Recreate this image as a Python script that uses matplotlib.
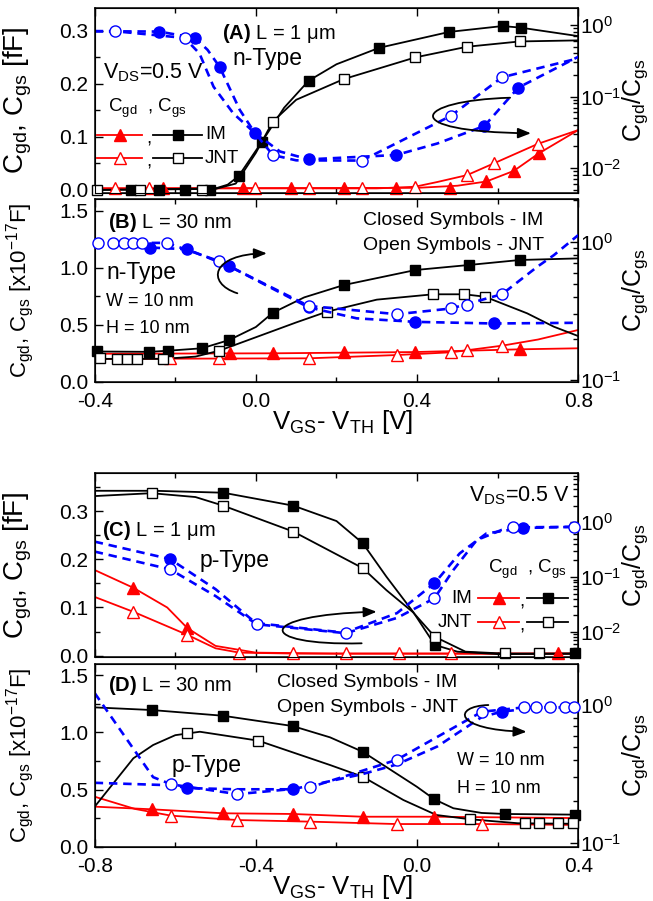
import numpy as np
import matplotlib
matplotlib.use('Agg')
import matplotlib.pyplot as plt
from matplotlib.path import Path
from matplotlib.patches import FancyArrowPatch
from matplotlib.ticker import MultipleLocator, FormatStrFormatter, LogLocator, NullFormatter

plt.rcParams['font.family'] = ['Liberation Sans', 'DejaVu Sans']
plt.rcParams['mathtext.fontset'] = 'custom'
plt.rcParams['mathtext.rm'] = 'Liberation Sans'
plt.rcParams['mathtext.it'] = 'Liberation Sans:italic'
plt.rcParams['mathtext.bf'] = 'Liberation Sans:bold'
plt.rcParams['mathtext.default'] = 'regular'
plt.rcParams['axes.unicode_minus'] = False

# ---------------- Panel A (n-type, L = 1 um) ----------------
A_im_cgs_lx = [-0.4, -0.1, -0.07, -0.043, 0.015, 0.07, 0.131, 0.2, 0.306, 0.48, 0.612, 0.657, 0.8]
A_im_cgs_ly = [0.0, 0.003, 0.01, 0.026, 0.091, 0.155, 0.206, 0.237, 0.268, 0.298, 0.309, 0.306, 0.29]
A_im_cgs_mx = [-0.31, -0.24, -0.177, -0.114, -0.043, 0.015, 0.131, 0.306, 0.48, 0.612, 0.657]
A_im_cgs_my = [0.0, 0.0, 0.0, 0.0, 0.026, 0.091, 0.206, 0.268, 0.298, 0.309, 0.306]

A_jnt_cgs_lx = [-0.4, -0.1, -0.05, 0.0, 0.042, 0.1, 0.218, 0.396, 0.524, 0.655, 0.8]
A_jnt_cgs_ly = [0.0, 0.002, 0.012, 0.07, 0.129, 0.17, 0.209, 0.25, 0.27, 0.28, 0.282]
A_jnt_cgs_mx = [-0.395, -0.287, -0.133, 0.042, 0.218, 0.396, 0.524, 0.655]
A_jnt_cgs_my = [0.0, 0.0, 0.0, 0.129, 0.209, 0.25, 0.27, 0.28]

A_im_cgd_lx = [-0.4, 0.4, 0.5, 0.572, 0.64, 0.702, 0.8]
A_im_cgd_ly = [0.003, 0.004, 0.008, 0.016, 0.036, 0.069, 0.113]
A_im_cgd_mx = [-0.231, -0.033, 0.088, 0.218, 0.348, 0.481, 0.572, 0.64, 0.702]
A_im_cgd_my = [0.003, 0.003, 0.003, 0.003, 0.003, 0.004, 0.016, 0.036, 0.069]

A_jnt_cgd_lx = [-0.4, 0.3, 0.394, 0.45, 0.524, 0.59, 0.7, 0.8]
A_jnt_cgd_ly = [0.003, 0.003, 0.006, 0.015, 0.028, 0.05, 0.087, 0.113]
A_jnt_cgd_mx = [-0.35, -0.264, -0.002, 0.131, 0.263, 0.394, 0.524, 0.59, 0.70]
A_jnt_cgd_my = [0.003, 0.003, 0.003, 0.003, 0.003, 0.005, 0.028, 0.05, 0.087]

A_im_r_lx = [-0.4, -0.24, -0.151, -0.12, -0.09, -0.04, -0.002, 0.06, 0.131, 0.348, 0.45, 0.567, 0.651, 0.8]
A_im_r_ly = [0.82, 0.81, 0.66, 0.45, 0.26, 0.065, 0.0306, 0.017, 0.0132, 0.0152, 0.022, 0.0387, 0.133, 0.36]
A_im_r_mx = [-0.24, -0.151, -0.09, -0.002, 0.131, 0.348, 0.567, 0.651]
A_im_r_my = [0.81, 0.66, 0.26, 0.0306, 0.0132, 0.0152, 0.0387, 0.133]

A_jnt_r_lx = [-0.4, -0.35, -0.177, -0.14, -0.105, -0.056, -0.002, 0.042, 0.1, 0.263, 0.483, 0.611, 0.8]
A_jnt_r_ly = [0.82, 0.82, 0.66, 0.4, 0.137, 0.058, 0.0306, 0.0152, 0.0128, 0.0127, 0.0533, 0.186, 0.342]
A_jnt_r_mx = [-0.35, -0.177, 0.042, 0.263, 0.483, 0.611]
A_jnt_r_my = [0.82, 0.66, 0.0152, 0.0127, 0.0533, 0.186]

# ---------------- Panel B (n-type, L = 30 nm) ----------------
B_im_cgs_lx = [-0.4, -0.264, -0.217, -0.134, -0.066, 0.0, 0.042, 0.12, 0.218, 0.396, 0.528, 0.655, 0.8]
B_im_cgs_ly = [0.265, 0.262, 0.272, 0.293, 0.366, 0.48, 0.605, 0.74, 0.848, 0.98, 1.024, 1.068, 1.082]
B_im_cgs_mx = [-0.395, -0.264, -0.217, -0.134, -0.066, 0.042, 0.218, 0.396, 0.528, 0.655]
B_im_cgs_my = [0.269, 0.258, 0.272, 0.293, 0.366, 0.605, 0.848, 0.98, 1.024, 1.068]

B_jnt_cgs_lx = [-0.4, -0.231, -0.15, -0.091, 0.0, 0.1, 0.176, 0.3, 0.44, 0.517, 0.568, 0.673, 0.739, 0.8]
B_jnt_cgs_ly = [0.2, 0.2, 0.22, 0.272, 0.39, 0.52, 0.614, 0.72, 0.767, 0.767, 0.746, 0.6, 0.483, 0.40]
B_jnt_cgs_mx = [-0.387, -0.345, -0.32, -0.294, -0.231, -0.091, 0.176, 0.44, 0.517, 0.568]
B_jnt_cgs_my = [0.205, 0.2, 0.2, 0.2, 0.2, 0.272, 0.614, 0.767, 0.767, 0.746]

B_im_cgd_lx = [-0.4, 0.042, 0.394, 0.655, 0.8]
B_im_cgd_ly = [0.245, 0.249, 0.26, 0.284, 0.293]
B_im_cgd_mx = [-0.064, 0.042, 0.218, 0.394, 0.655]
B_im_cgd_my = [0.249, 0.249, 0.258, 0.258, 0.284]

B_jnt_cgd_lx = [-0.4, 0.131, 0.35, 0.485, 0.611, 0.7, 0.8]
B_jnt_cgd_ly = [0.2, 0.205, 0.234, 0.258, 0.316, 0.37, 0.454]
B_jnt_cgd_mx = [-0.213, -0.091, 0.131, 0.35, 0.485, 0.524, 0.611]
B_jnt_cgd_my = [0.205, 0.205, 0.205, 0.234, 0.258, 0.278, 0.316]

B_jnt_r_lx = [-0.4, -0.221, -0.091, 0.131, 0.35, 0.485, 0.611, 0.698, 0.739, 0.8]
B_jnt_r_ly = [0.983, 0.983, 0.725, 0.344, 0.30, 0.33, 0.419, 0.66, 0.80, 1.12]
B_jnt_r_mx = [-0.391, -0.354, -0.327, -0.304, -0.283, -0.221, -0.091, 0.131, 0.35, 0.485, 0.524, 0.611]
B_jnt_r_my = [0.983, 0.983, 0.983, 0.983, 0.983, 0.983, 0.725, 0.344, 0.30, 0.33, 0.348, 0.419]

B_im_r_lx = [-0.4, -0.263, -0.171, -0.066, 0.131, 0.25, 0.396, 0.59, 0.8]
B_im_r_ly = [0.95, 0.91, 0.885, 0.667, 0.336, 0.28, 0.264, 0.257, 0.26]
B_im_r_mx = [-0.263, -0.171, -0.066, 0.131, 0.396, 0.59]
B_im_r_my = [0.91, 0.885, 0.667, 0.336, 0.264, 0.257]

# ---------------- Panel C (p-type, L = 1 um) ----------------
C_im_cgs_lx = [-0.8, -0.65, -0.481, -0.307, -0.2, -0.135, -0.076, -0.01, 0.044, 0.1, 0.2, 0.4]
C_im_cgs_ly = [0.343, 0.343, 0.339, 0.312, 0.28, 0.234, 0.164, 0.091, 0.022, 0.008, 0.003, 0.004]
C_im_cgs_mx = [-0.481, -0.307, -0.135, 0.044, 0.392]
C_im_cgs_my = [0.339, 0.312, 0.234, 0.022, 0.005]

C_jnt_cgs_lx = [-0.8, -0.659, -0.55, -0.481, -0.307, -0.135, -0.076, -0.01, 0.044, 0.12, 0.218, 0.4]
C_jnt_cgs_ly = [0.332, 0.338, 0.33, 0.312, 0.258, 0.182, 0.136, 0.09, 0.039, 0.008, 0.004, 0.004]
C_jnt_cgs_mx = [-0.659, -0.481, -0.307, -0.135, 0.044, 0.218, 0.303]
C_jnt_cgs_my = [0.338, 0.312, 0.258, 0.182, 0.039, 0.005, 0.005]

C_im_cgd_lx = [-0.8, -0.704, -0.62, -0.57, -0.5, -0.4, -0.2, 0.4]
C_im_cgd_ly = [0.178, 0.141, 0.1, 0.057, 0.02, 0.006, 0.004, 0.004]
C_im_cgd_mx = [-0.704, -0.57, 0.35]
C_im_cgd_my = [0.141, 0.057, 0.005]

C_jnt_cgd_lx = [-0.8, -0.704, -0.57, -0.5, -0.441, -0.3, 0.4]
C_jnt_cgd_ly = [0.122, 0.091, 0.043, 0.015, 0.006, 0.004, 0.004]
C_jnt_cgd_mx = [-0.704, -0.57, -0.441, -0.307, -0.177, -0.044, 0.085]
C_jnt_cgd_my = [0.091, 0.043, 0.005, 0.005, 0.005, 0.005, 0.005]

C_im_r_lx = [-0.8, -0.613, -0.5, -0.4, -0.18, -0.05, 0.043, 0.106, 0.172, 0.263, 0.4]
C_im_r_ly = [0.44, 0.212, 0.06, 0.0145, 0.0097, 0.022, 0.077, 0.27, 0.62, 0.78, 0.82]
C_im_r_mx = [-0.613, 0.043, 0.263]
C_im_r_my = [0.212, 0.077, 0.78]

C_jnt_r_lx = [-0.8, -0.613, -0.5, -0.398, -0.177, -0.05, 0.043, 0.09, 0.148, 0.21, 0.239, 0.4]
C_jnt_r_ly = [0.29, 0.138, 0.045, 0.0138, 0.0095, 0.018, 0.041, 0.134, 0.47, 0.72, 0.8, 0.82]
C_jnt_r_mx = [-0.613, -0.398, -0.177, 0.043, 0.239, 0.39]
C_jnt_r_my = [0.138, 0.0138, 0.0095, 0.041, 0.8, 0.82]

# ---------------- Panel D (p-type, L = 30 nm) ----------------
D_im_cgs_lx = [-0.8, -0.659, -0.482, -0.309, -0.216, -0.135, -0.001, 0.043, 0.09, 0.16, 0.218, 0.4]
D_im_cgs_ly = [1.218, 1.195, 1.145, 1.055, 0.956, 0.83, 0.525, 0.414, 0.336, 0.295, 0.286, 0.28]
D_im_cgs_mx = [-0.659, -0.482, -0.309, -0.135, 0.043, 0.218, 0.392]
D_im_cgs_my = [1.195, 1.145, 1.055, 0.83, 0.414, 0.286, 0.277]

D_jnt_cgs_lx = [-0.8, -0.704, -0.655, -0.6, -0.539, -0.394, -0.216, -0.135, -0.034, 0.048, 0.131, 0.25, 0.4]
D_jnt_cgs_ly = [0.35, 0.773, 0.889, 0.975, 1.005, 0.927, 0.714, 0.612, 0.408, 0.277, 0.24, 0.205, 0.2]
D_jnt_cgs_mx = [-0.572, -0.394, -0.135, 0.131, 0.268, 0.303, 0.349, 0.386]
D_jnt_cgs_my = [0.991, 0.927, 0.612, 0.24, 0.205, 0.205, 0.205, 0.205]

D_im_cgd_lx = [-0.8, -0.659, -0.481, -0.309, -0.135, 0.043, 0.4]
D_im_cgd_ly = [0.35, 0.327, 0.292, 0.286, 0.262, 0.262, 0.25]
D_im_cgd_mx = [-0.659, -0.481, -0.309, -0.135, 0.043]
D_im_cgd_my = [0.327, 0.292, 0.286, 0.262, 0.262]

D_jnt_cgd_lx = [-0.8, -0.7, -0.61, -0.446, -0.266, -0.051, 0.161, 0.4]
D_jnt_cgd_ly = [0.437, 0.33, 0.271, 0.233, 0.219, 0.198, 0.198, 0.19]
D_jnt_cgd_mx = [-0.61, -0.446, -0.266, -0.051, 0.161]
D_jnt_cgd_my = [0.271, 0.233, 0.219, 0.198, 0.198]

D_jnt_r_lx = [-0.8, -0.655, -0.61, -0.446, -0.266, -0.051, 0.161, 0.265, 0.4]
D_jnt_r_ly = [1.22, 0.30, 0.266, 0.226, 0.253, 0.40, 0.894, 0.96, 0.96]
D_jnt_r_mx = [-0.61, -0.446, -0.266, -0.051, 0.161, 0.265, 0.296, 0.33, 0.367, 0.39]
D_jnt_r_my = [0.266, 0.226, 0.253, 0.40, 0.894, 0.96, 0.96, 0.96, 0.96, 0.96]

D_im_r_lx = [-0.8, -0.61, -0.57, -0.45, -0.309, -0.135, -0.051, 0.05, 0.161, 0.21, 0.3, 0.4]
D_im_r_ly = [0.273, 0.262, 0.25, 0.245, 0.245, 0.316, 0.37, 0.5, 0.82, 0.894, 0.96, 0.96]
D_im_r_mx = [-0.57, -0.309, 0.21]
D_im_r_my = [0.25, 0.245, 0.894]

RED = '#ff0000'
BLUE = '#0000ff'
BLK = '#000000'

TICK = 15
LABEL_A = 20
LABEL_B = 16
LABEL_R = 18
XLABEL = 18.5
TYPE = 16.5
TITLE = 14.5
NOTE = 14
WH = 13
LEG = 13.5

fig = plt.figure(figsize=(6.53, 9.01), dpi=100)
L, W = 0.145, 0.7406
axA = fig.add_axes([L, 0.7858, W, 0.2053])
axB = fig.add_axes([L, 0.5760, W, 0.2031])
axC = fig.add_axes([L, 0.2708, W, 0.2042])
axD = fig.add_axes([L, 0.0599, W, 0.2031])


def solid(ax, lx, ly, mx, my, color, marker, filled, ms):
    ax.plot(lx, ly, color=color, lw=1.3, zorder=2)
    ax.plot(mx, my, ls='none', marker=marker, ms=ms, mec=color,
            mfc=color if filled else 'white', mew=1.0, zorder=3, clip_on=False)


def dashed(ax, lx, ly, mx, my, filled):
    ax.plot(lx, ly, color=BLUE, lw=1.9, dashes=(3.2, 2.2), zorder=2)
    ax.plot(mx, my, ls='none', marker='o', ms=8, mec=BLUE,
            mfc=BLUE if filled else 'white', mew=1.0, zorder=3, clip_on=False)


def setup(ax, xlim, ylim, ymaj, ylim2, show_x):
    ax.set_xlim(*xlim)
    ax.set_ylim(*ylim)
    ax.xaxis.set_major_locator(MultipleLocator(0.4))
    ax.xaxis.set_minor_locator(MultipleLocator(0.2))
    ax.yaxis.set_major_locator(MultipleLocator(ymaj))
    ax.yaxis.set_minor_locator(MultipleLocator(ymaj / 2))
    ax.yaxis.set_major_formatter(FormatStrFormatter('%.1f'))
    ax.xaxis.set_major_formatter(FormatStrFormatter('%.1f'))
    ax.tick_params(which='both', direction='in', top=True, right=False, labelsize=TICK, width=1.0)
    ax.tick_params(which='major', length=6)
    ax.tick_params(which='minor', length=3.5)
    ax.tick_params(axis='y', pad=4.5)
    ax.tick_params(axis='x', pad=7)
    if not show_x:
        ax.tick_params(axis='x', labelbottom=False)
    for s in ax.spines.values():
        s.set_linewidth(1.1)
    ax2 = ax.twinx()
    ax2.set_yscale('log')
    ax2.set_ylim(*ylim2)
    ax2.yaxis.set_major_locator(LogLocator(base=10, numticks=10))
    ax2.yaxis.set_minor_locator(LogLocator(base=10, subs=np.arange(2, 10), numticks=10))
    ax2.yaxis.set_minor_formatter(NullFormatter())
    ax2.tick_params(which='both', direction='in', labelsize=TICK, width=1.0, pad=1.5)
    ax2.tick_params(which='major', length=6)
    ax2.tick_params(which='minor', length=3.5)
    ax2.set_ylabel('C$_{gd}$/C$_{gs}$', fontsize=LABEL_R)
    ax2.yaxis.set_label_coords(1.087, 0.5)
    return ax2


def arrow(ax, pts):
    codes = [Path.MOVETO, Path.CURVE4, Path.CURVE4, Path.CURVE4]
    p = FancyArrowPatch(path=Path(pts, codes), arrowstyle='-|>,head_length=0.55,head_width=0.22',
                        mutation_scale=14, lw=1.3, color='k', transform=ax.transAxes, zorder=6)
    ax.add_artist(p)


def legend_rows(ax, rows):
    for (y, xr, xc, xb, filled) in rows:
        ax.plot(xr, [y, y], color=RED, lw=1.3, transform=ax.transAxes, clip_on=False)
        ax.plot([(xr[0] + xr[1]) / 2], [y], marker='^', ms=9, mec=RED, mfc=RED if filled else 'white',
                mew=1.0, transform=ax.transAxes, clip_on=False)
        ax.text(xc, y - 0.02, ',', fontsize=LEG, transform=ax.transAxes, ha='center', va='center')
        ax.plot(xb, [y, y], color=BLK, lw=1.3, transform=ax.transAxes, clip_on=False)
        ax.plot([(xb[0] + xb[1]) / 2], [y], marker='s', ms=7, mec=BLK, mfc=BLK if filled else 'white',
                mew=1.0, transform=ax.transAxes, clip_on=False)


# ---------------- Draw A ----------------
axA2 = setup(axA, (-0.4, 0.8), (-0.0057, 0.343), 0.1, (0.00447, 1.73), False)
solid(axA, A_im_cgd_lx, A_im_cgd_ly, A_im_cgd_mx, A_im_cgd_my, RED, '^', True, 9)
solid(axA, A_jnt_cgd_lx, A_jnt_cgd_ly, A_jnt_cgd_mx, A_jnt_cgd_my, RED, '^', False, 9)
solid(axA, A_im_cgs_lx, A_im_cgs_ly, A_im_cgs_mx, A_im_cgs_my, BLK, 's', True, 7)
solid(axA, A_jnt_cgs_lx, A_jnt_cgs_ly, A_jnt_cgs_mx, A_jnt_cgs_my, BLK, 's', False, 7)
dashed(axA2, A_im_r_lx, A_im_r_ly, A_im_r_mx, A_im_r_my, True)
dashed(axA2, A_jnt_r_lx, A_jnt_r_ly, A_jnt_r_mx, A_jnt_r_my, False)
axA.set_ylabel('C$_{gd}$, C$_{gs}$ [fF]', fontsize=LABEL_A)
axA.yaxis.set_label_coords(-0.125, 0.5)
axA.text(0.263, 0.831, r'$\mathbf{(A)}$ L = 1 $\mu$m', fontsize=TITLE, transform=axA.transAxes, va='baseline')
axA.text(0.284, 0.692, 'n-Type', fontsize=TYPE, transform=axA.transAxes, va='baseline')
axA.text(0.017, 0.62, 'V$_{DS}$=0.5 V', fontsize=15.5, transform=axA.transAxes, va='baseline')
axA.text(0.028, 0.44, 'C$_{gd}$  , C$_{gs}$', fontsize=LEG, transform=axA.transAxes, va='baseline')
legend_rows(axA, [(0.314, [0.005, 0.098], 0.112, [0.121, 0.222], True),
                  (0.189, [0.005, 0.098], 0.112, [0.121, 0.222], False)])
axA.text(0.228, 0.314, 'IM', fontsize=LEG, transform=axA.transAxes, va='center')
axA.text(0.228, 0.189, 'JNT', fontsize=LEG, transform=axA.transAxes, va='center')
arrow(axA2, [(0.859, 0.515), (0.66, 0.50), (0.62, 0.33), (0.902, 0.323)])

# ---------------- Draw B ----------------
axB2 = setup(axB, (-0.4, 0.8), (-0.003, 1.603), 0.5, (0.097, 2.04), True)
solid(axB, B_im_cgd_lx, B_im_cgd_ly, B_im_cgd_mx, B_im_cgd_my, RED, '^', True, 9)
solid(axB, B_jnt_cgd_lx, B_jnt_cgd_ly, B_jnt_cgd_mx, B_jnt_cgd_my, RED, '^', False, 9)
solid(axB, B_im_cgs_lx, B_im_cgs_ly, B_im_cgs_mx, B_im_cgs_my, BLK, 's', True, 7)
solid(axB, B_jnt_cgs_lx, B_jnt_cgs_ly, B_jnt_cgs_mx, B_jnt_cgs_my, BLK, 's', False, 7)
dashed(axB2, B_im_r_lx, B_im_r_ly, B_im_r_mx, B_im_r_my, True)
dashed(axB2, B_jnt_r_lx, B_jnt_r_ly, B_jnt_r_mx, B_jnt_r_my, False)
axB.set_ylabel('C$_{gd}$, C$_{gs}$ [x10$^{-17}$F]', fontsize=LABEL_B)
axB.yaxis.set_label_coords(-0.122, 0.5)
axB.set_xlabel('V$_{GS}$- V$_{TH}$ [V]', fontsize=XLABEL)
axB.xaxis.set_label_coords(0.513, -0.14)
axB.text(0.028, 0.843, r'$\mathbf{(B)}$ L = 30 nm', fontsize=TITLE, transform=axB.transAxes, va='baseline')
axB.text(0.024, 0.561, 'n-Type', fontsize=TYPE, transform=axB.transAxes, va='baseline')
axB.text(0.024, 0.415, 'W = 10 nm', fontsize=WH, transform=axB.transAxes, va='baseline')
axB.text(0.024, 0.266, 'H = 10 nm', fontsize=WH, transform=axB.transAxes, va='baseline')
axB.text(0.555, 0.858, 'Closed Symbols - IM', fontsize=NOTE, transform=axB.transAxes, va='baseline')
axB.text(0.555, 0.721, 'Open Symbols - JNT', fontsize=NOTE, transform=axB.transAxes, va='baseline')
arrow(axB2, [(0.295, 0.485), (0.23, 0.54), (0.24, 0.70), (0.356, 0.703)])

# ---------------- Draw C ----------------
axC2 = setup(axC, (-0.8, 0.4), (-0.0031, 0.38), 0.1, (0.0035, 7.8), False)
solid(axC, C_im_cgd_lx, C_im_cgd_ly, C_im_cgd_mx, C_im_cgd_my, RED, '^', True, 9)
solid(axC, C_jnt_cgd_lx, C_jnt_cgd_ly, C_jnt_cgd_mx, C_jnt_cgd_my, RED, '^', False, 9)
solid(axC, C_im_cgs_lx, C_im_cgs_ly, C_im_cgs_mx, C_im_cgs_my, BLK, 's', True, 7)
solid(axC, C_jnt_cgs_lx, C_jnt_cgs_ly, C_jnt_cgs_mx, C_jnt_cgs_my, BLK, 's', False, 7)
dashed(axC2, C_im_r_lx, C_im_r_ly, C_im_r_mx, C_im_r_my, True)
dashed(axC2, C_jnt_r_lx, C_jnt_r_ly, C_jnt_r_mx, C_jnt_r_my, False)
axC.set_ylabel('C$_{gd}$, C$_{gs}$ [fF]', fontsize=LABEL_A)
axC.yaxis.set_label_coords(-0.125, 0.5)
axC.text(0.773, 0.844, 'V$_{DS}$=0.5 V', fontsize=15.5, transform=axC.transAxes, va='baseline')
axC.text(0.0145, 0.658, r'$\mathbf{(C)}$ L = 1 $\mu$m', fontsize=TITLE, transform=axC.transAxes, va='baseline')
axC.text(0.216, 0.491, 'p-Type', fontsize=TYPE, transform=axC.transAxes, va='baseline')
axC.text(0.813, 0.457, 'C$_{gd}$  , C$_{gs}$', fontsize=LEG, transform=axC.transAxes, va='baseline')
legend_rows(axC, [(0.32, [0.793, 0.878], 0.884, [0.894, 0.979], True),
                  (0.19, [0.793, 0.878], 0.884, [0.894, 0.979], False)])
axC.text(0.78, 0.32, 'IM', fontsize=LEG, transform=axC.transAxes, va='center', ha='right')
axC.text(0.78, 0.19, 'JNT', fontsize=LEG, transform=axC.transAxes, va='center', ha='right')
arrow(axC2, [(0.552, 0.0745), (0.33, 0.06), (0.33, 0.23), (0.583, 0.246)])

# ---------------- Draw D ----------------
axD2 = setup(axD, (-0.8, 0.4), (-0.003, 1.597), 0.5, (0.0935, 1.98), True)
solid(axD, D_im_cgd_lx, D_im_cgd_ly, D_im_cgd_mx, D_im_cgd_my, RED, '^', True, 9)
solid(axD, D_jnt_cgd_lx, D_jnt_cgd_ly, D_jnt_cgd_mx, D_jnt_cgd_my, RED, '^', False, 9)
solid(axD, D_im_cgs_lx, D_im_cgs_ly, D_im_cgs_mx, D_im_cgs_my, BLK, 's', True, 7)
solid(axD, D_jnt_cgs_lx, D_jnt_cgs_ly, D_jnt_cgs_mx, D_jnt_cgs_my, BLK, 's', False, 7)
dashed(axD2, D_im_r_lx, D_im_r_ly, D_im_r_mx, D_im_r_my, True)
dashed(axD2, D_jnt_r_lx, D_jnt_r_ly, D_jnt_r_mx, D_jnt_r_my, False)
axD.set_ylabel('C$_{gd}$, C$_{gs}$ [x10$^{-17}$F]', fontsize=LABEL_B)
axD.yaxis.set_label_coords(-0.122, 0.5)
axD.set_xlabel('V$_{GS}$- V$_{TH}$ [V]', fontsize=XLABEL)
axD.xaxis.set_label_coords(0.513, -0.14)
axD.text(0.028, 0.854, r'$\mathbf{(D)}$ L = 30 nm', fontsize=TITLE, transform=axD.transAxes, va='baseline')
axD.text(0.376, 0.873, 'Closed Symbols - IM', fontsize=NOTE, transform=axD.transAxes, va='baseline')
axD.text(0.376, 0.736, 'Open Symbols - JNT', fontsize=NOTE, transform=axD.transAxes, va='baseline')
axD.text(0.159, 0.408, 'p-Type', fontsize=TYPE, transform=axD.transAxes, va='baseline')
axD.text(0.749, 0.448, 'W = 10 nm', fontsize=WH, transform=axD.transAxes, va='baseline')
axD.text(0.749, 0.297, 'H = 10 nm', fontsize=WH, transform=axD.transAxes, va='baseline')
arrow(axD2, [(0.814, 0.776), (0.74, 0.77), (0.74, 0.64), (0.893, 0.63)])

fig.savefig('out.png', dpi=100)
